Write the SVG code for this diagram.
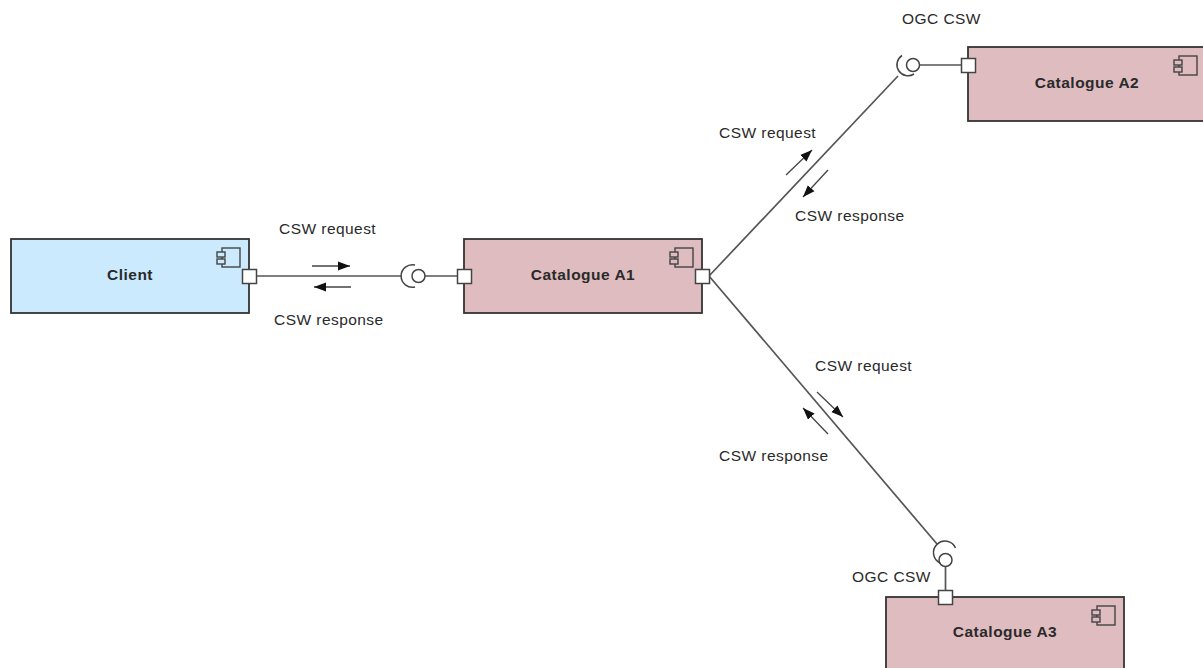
<svg xmlns="http://www.w3.org/2000/svg" width="1203" height="668" viewBox="0 0 1203 668">
<defs>
<marker id="ah" markerUnits="userSpaceOnUse" markerWidth="13" markerHeight="10" refX="12" refY="5" orient="auto"><path d="M0,0.500 L12,5 L0,9.500 Z" fill="#111"/></marker>
<g id="icon" stroke="#444" stroke-width="1.4"><rect x="-27" y="-27" width="18" height="19"/><rect x="-32" y="-23" width="8" height="5"/><rect x="-32" y="-16" width="8" height="5"/></g>
</defs>
<style>
text{font-family:"Liberation Sans",Arial,sans-serif;font-size:15.500px;letter-spacing:.45px;fill:#2a2a2a}
.t{font-weight:bold;text-anchor:middle;font-size:15.500px;letter-spacing:.5px}
.box{stroke:#333;stroke-width:1.8}
.cat{fill:#dfbcc0}
.cli{fill:#cbeafe}
.port{fill:#fff;stroke:#444;stroke-width:1.5}
.c{fill:none;stroke:#555;stroke-width:1.7}
.a{fill:none;stroke:#444;stroke-width:1.3;marker-end:url(#ah)}
.ball{fill:#fff;stroke:#444;stroke-width:1.5}
.sock{fill:none;stroke:#444;stroke-width:1.5}
</style>
<g id="connectors">
<path class="c" d="M256,276 H401"/>
<path class="c" d="M425,276 H458"/>
<path class="c" d="M709,276 L898,76"/>
<path class="c" d="M709,276 L937,544"/>
<path class="c" d="M919,65 H962"/>
<path class="c" d="M945.500,566 V591"/>
<path class="a" d="M312,266 H350"/>
<path class="a" d="M351,287 H314"/>
<path class="a" d="M786,175 L812,150"/>
<path class="a" d="M828,170 L803,197"/>
<path class="a" d="M817,392 L843,417"/>
<path class="a" d="M828,434 L803,408"/>
</g>
<g id="client"><rect class="box cli" x="11" y="239" width="238" height="74"/><use class="cli" href="#icon" x="249" y="275"/><rect class="port" x="242.500" y="269.500" width="14" height="14"/><text class="t" x="130" y="280">Client</text></g>
<g id="catalogue-a1"><rect class="box cat" x="464" y="239" width="238" height="74"/><use class="cat" href="#icon" x="702" y="275"/><rect class="port" x="457.500" y="269.500" width="14" height="14"/><rect class="port" x="695.500" y="269.500" width="14" height="14"/><text class="t" x="583" y="280">Catalogue A1</text></g>
<g id="catalogue-a2"><rect class="box cat" x="968" y="47" width="238" height="74"/><use class="cat" href="#icon" x="1206" y="83"/><rect class="port" x="961.500" y="58.500" width="14" height="14"/><text class="t" x="1087" y="88">Catalogue A2</text></g>
<g id="catalogue-a3"><rect class="box cat" x="886" y="597" width="238" height="74"/><use class="cat" href="#icon" x="1124" y="633"/><rect class="port" x="938.500" y="590.500" width="14" height="14"/><text class="t" x="1005" y="637">Catalogue A3</text></g>
<g id="interface-a1"><circle class="ball" cx="418.500" cy="276" r="6.500"/><path class="sock" d="M415,265 A11.300,11.300 0 1 0 415,287"/></g>
<g id="interface-a2"><circle class="ball" cx="913" cy="65" r="6.500"/><path class="sock" d="M902,55.500 A11,11 0 1 0 914,74"/></g>
<g id="interface-a3"><circle class="ball" cx="945.500" cy="560" r="6.500"/><path class="sock" d="M955.500,548 A11.500,11.500 0 1 0 940,563"/></g>
<g id="labels">
<text x="279" y="234">CSW request</text>
<text x="274" y="325">CSW response</text>
<text x="719" y="138">CSW request</text>
<text x="795" y="221">CSW response</text>
<text x="815" y="371">CSW request</text>
<text x="719" y="461">CSW response</text>
<text x="902" y="24">OGC CSW</text>
<text x="852" y="582">OGC CSW</text>
</g>
</svg>
